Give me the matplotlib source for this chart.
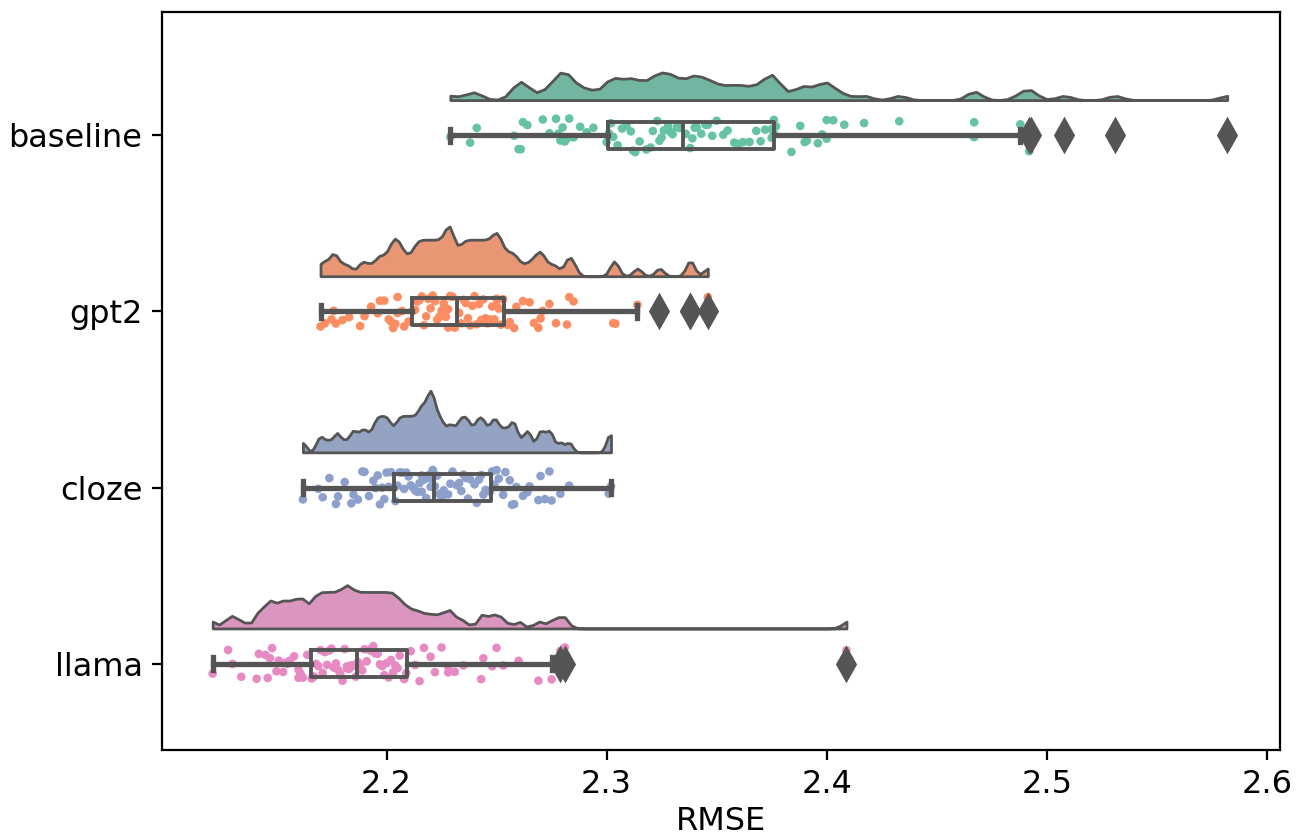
import matplotlib
matplotlib.use("Agg")
import matplotlib.pyplot as plt
import numpy as np
import pandas as pd
import seaborn as sns

# RMSE per run
models = ["baseline", "gpt2", "cloze", "llama"]

baseline = [
    2.229, 2.238, 2.241, 2.258, 2.260, 2.261, 2.262, 2.264, 2.271, 2.274,
    2.277, 2.278, 2.279, 2.280, 2.281, 2.282, 2.283, 2.285, 2.288, 2.291,
    2.294, 2.300, 2.301, 2.302,
    2.303, 2.305, 2.307, 2.309, 2.311, 2.312, 2.313, 2.315, 2.318, 2.320,
    2.321, 2.323, 2.324, 2.325, 2.326, 2.328, 2.329, 2.330, 2.332, 2.333,
    2.336, 2.338, 2.339,
    2.340, 2.341, 2.343, 2.345, 2.346, 2.348, 2.350, 2.353, 2.355, 2.358,
    2.360, 2.362, 2.365, 2.368, 2.370, 2.372, 2.375, 2.375, 2.376,
    2.376, 2.377, 2.384, 2.388, 2.390, 2.391, 2.396, 2.398, 2.400, 2.400,
    2.403, 2.408, 2.417, 2.433, 2.467, 2.467, 2.488, 2.492, 2.493, 2.508,
    2.531, 2.582,
]
gpt2 = [
    2.170, 2.172, 2.175, 2.176, 2.177, 2.180, 2.183, 2.188, 2.190, 2.193,
    2.196, 2.197, 2.199, 2.201, 2.202, 2.203, 2.204, 2.205, 2.205, 2.207,
    2.208, 2.210,
    2.212, 2.213, 2.214, 2.215, 2.216, 2.217, 2.218, 2.219, 2.220, 2.221,
    2.222, 2.223, 2.224, 2.225, 2.226, 2.227, 2.228, 2.228, 2.229, 2.229,
    2.230, 2.231,
    2.233, 2.234, 2.235, 2.236, 2.237, 2.238, 2.239, 2.240, 2.241, 2.242,
    2.243, 2.244, 2.245, 2.246, 2.247, 2.248, 2.249, 2.250, 2.250, 2.251,
    2.252, 2.253,
    2.255, 2.256, 2.258, 2.259, 2.262, 2.265, 2.267, 2.269, 2.270, 2.271,
    2.274, 2.277, 2.282, 2.283, 2.285, 2.303, 2.304, 2.314, 2.324, 2.338,
    2.338, 2.346,
]
cloze = [
    2.162, 2.169, 2.171, 2.174, 2.177, 2.178, 2.181, 2.184, 2.185, 2.187,
    2.189, 2.190, 2.192, 2.194, 2.195, 2.196, 2.197, 2.198, 2.199, 2.200,
    2.201, 2.202,
    2.204, 2.205, 2.206, 2.207, 2.208, 2.209, 2.210, 2.211, 2.212, 2.213,
    2.214, 2.215, 2.216, 2.216, 2.217, 2.218, 2.219, 2.219, 2.220, 2.220,
    2.221, 2.221,
    2.222, 2.223, 2.224, 2.225, 2.226, 2.228, 2.229, 2.230, 2.232, 2.233,
    2.234, 2.235, 2.236, 2.237, 2.238, 2.240, 2.241, 2.242, 2.243, 2.244,
    2.245, 2.247,
    2.248, 2.249, 2.250, 2.251, 2.253, 2.254, 2.256, 2.257, 2.258, 2.259,
    2.262, 2.264, 2.265, 2.269, 2.270, 2.272, 2.274, 2.275, 2.279, 2.283,
    2.301, 2.302,
]
llama = [
    2.121, 2.128, 2.130, 2.134, 2.141, 2.142, 2.145, 2.146, 2.147, 2.148,
    2.150, 2.151, 2.153, 2.154, 2.155, 2.156, 2.158, 2.160, 2.160, 2.161,
    2.162, 2.164,
    2.166, 2.167, 2.168, 2.169, 2.170, 2.171, 2.172, 2.173, 2.174, 2.175,
    2.176, 2.177, 2.178, 2.179, 2.180, 2.181, 2.182, 2.182, 2.183, 2.184,
    2.185, 2.186,
    2.187, 2.188, 2.189, 2.190, 2.191, 2.192, 2.193, 2.194, 2.195, 2.196,
    2.197, 2.198, 2.199, 2.200, 2.201, 2.202, 2.203, 2.204, 2.205, 2.206,
    2.208, 2.209,
    2.211, 2.213, 2.215, 2.217, 2.220, 2.222, 2.225, 2.228, 2.228, 2.231,
    2.235, 2.243, 2.244, 2.248, 2.250, 2.253, 2.260, 2.269, 2.275, 2.279,
    2.281, 2.409,
]
xticks = [2.2, 2.3, 2.4, 2.5, 2.6]

groups = [baseline, gpt2, cloze, llama]
palette = sns.color_palette("Set2", 4)
GRAY = "#555555"


def kde(vals, grid_n=100, bw=0.05):
    """Plain gaussian KDE on [min, max] (cut=0), bw as a fraction of std."""
    vals = np.asarray(vals)
    sd = bw * vals.std(ddof=1)
    grid = np.linspace(vals.min(), vals.max(), grid_n)
    z = (grid[:, None] - vals[None, :]) / sd
    dens = np.exp(-0.5 * z ** 2).sum(axis=1) / (len(vals) * sd * np.sqrt(2 * np.pi))
    return grid, dens


fig = plt.figure(figsize=(6.54, 4.18), dpi=200)
ax = fig.add_axes([0.1239, 0.1029, 0.8547, 0.8827])

df = pd.DataFrame({
    "model": np.repeat(models, [len(g) for g in groups]),
    "RMSE": np.concatenate(groups),
})

np.random.seed(3)
sns.stripplot(data=df, x="RMSE", y="model", hue="model", order=models,
              hue_order=models, palette=palette, size=3.1, jitter=0.1,
              legend=False, ax=ax, zorder=2)

# half violins (area-scaled, cut at the data range)
densities = [kde(g) for g in groups]
dmax = max(d.max() for _, d in densities)
for i, (grid, dens) in enumerate(densities):
    base = i - 0.2
    h = dens / dmax * 0.35
    ax.fill_between(grid, base, base - h,
                    facecolor=sns.desaturate(palette[i], 0.75),
                    edgecolor=GRAY, linewidth=1.0, zorder=1)

ax.boxplot(groups, positions=range(len(groups)), orientation="horizontal",
           widths=0.15, manage_ticks=False, whis=1.5,
           boxprops=dict(color=GRAY, linewidth=1.4),
           whiskerprops=dict(color=GRAY, linewidth=1.9),
           capprops=dict(color=GRAY, linewidth=1.9),
           medianprops=dict(color=GRAY, linewidth=1.4),
           flierprops=dict(marker="d", markersize=8, markerfacecolor=GRAY,
                           markeredgecolor=GRAY),
           zorder=10)

ax.set_yticks(range(len(models)))
ax.set_yticklabels(models, fontsize=11.5)
ax.set_xticks(xticks)
ax.tick_params(axis="x", labelsize=11.5)
ax.set_ylim(3.49, -0.70)
ax.set_xlim(2.098, 2.606)
ax.set_ylabel("")
ax.set_xlabel("RMSE", fontsize=11.5, labelpad=2)

fig.savefig("out.png", dpi=200)
